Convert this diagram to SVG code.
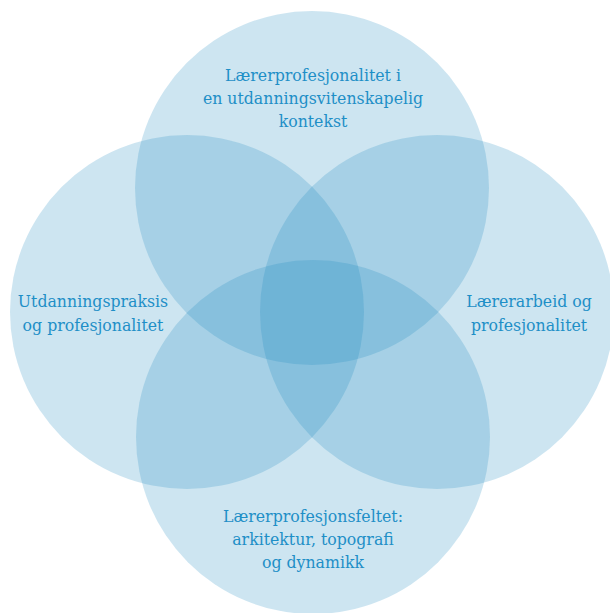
<svg xmlns="http://www.w3.org/2000/svg" width="610" height="613" viewBox="0 0 610 613">
<style>
.c{fill:#1c89bf;fill-opacity:0.22}
.t{font-family:"DejaVu Serif Condensed","DejaVu Serif",serif;font-stretch:condensed;font-size:17.5px;fill:#1e8fc7;text-anchor:middle}
</style>
<rect width="610" height="613" fill="#ffffff"/>
<g id="circle-top"><circle class="c" cx="312" cy="188" r="177"/></g>
<g id="circle-left"><circle class="c" cx="187" cy="312" r="177"/></g>
<g id="circle-right"><circle class="c" cx="437" cy="312" r="177"/></g>
<g id="circle-bottom"><circle class="c" cx="313" cy="437" r="177"/></g>
<g id="label-top"><text class="t" x="313" y="81">Lærerprofesjonalitet i</text><text class="t" x="313" y="104">en utdanningsvitenskapelig</text><text class="t" x="313" y="127">kontekst</text></g>
<g id="label-left"><text class="t" x="93" y="307">Utdanningspraksis</text><text class="t" x="93" y="331">og profesjonalitet</text></g>
<g id="label-right"><text class="t" x="529" y="307">Lærerarbeid og</text><text class="t" x="529" y="331">profesjonalitet</text></g>
<g id="label-bottom"><text class="t" x="313" y="522">Lærerprofesjonsfeltet:</text><text class="t" x="313" y="545">arkitektur, topografi</text><text class="t" x="313" y="568">og dynamikk</text></g>
<g id="connectors"/>
</svg>
